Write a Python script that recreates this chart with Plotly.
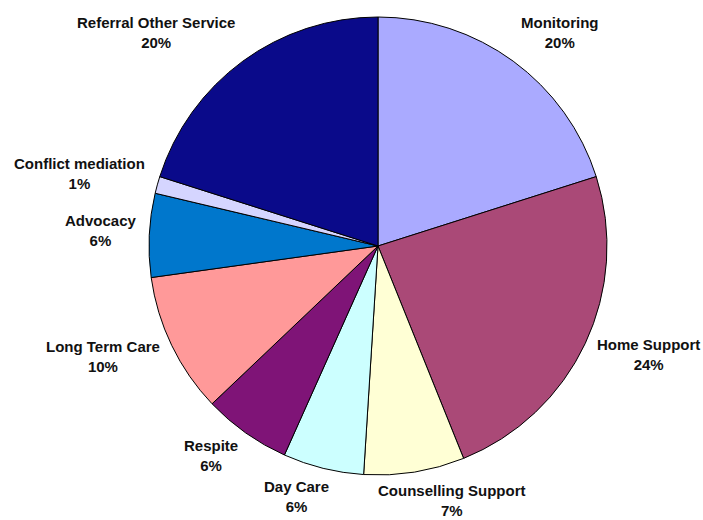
import math
import plotly.graph_objects as go

categories = ["Monitoring", "Home Support", "Counselling Support", "Day Care", "Respite",
              "Long Term Care", "Advocacy", "Conflict mediation", "Referral Other Service"]
values = [20.1, 23.8, 7.1, 5.7, 6.2, 9.9, 5.9, 1.2, 20.1]
colors = ["#AAAAFF", "#AA4977", "#FFFFD5", "#CCFFFF", "#7F1477",
          "#FF9999", "#0077CC", "#D5D5FF", "#0A0A8A"]

W, H = 703, 520
cx, cy, r = 378, 246, 229      # pie centre / radius in figure pixels
FS = 15
GAP = 13
LIFT = 3
FONT = "Liberation Sans, Arial, sans-serif"

# approximate Arial Bold advance widths (per 1000 em)
AW = {" ": 278, "a": 556, "b": 611, "c": 556, "d": 611, "e": 556, "f": 333, "g": 611,
      "h": 611, "i": 278, "l": 278, "m": 889, "n": 611, "o": 611, "p": 611, "r": 389,
      "s": 556, "t": 333, "u": 611, "v": 556, "y": 556, "C": 722, "D": 722, "H": 722,
      "L": 611, "M": 833, "O": 778, "R": 722, "S": 667, "T": 611, "A": 722, "%": 889}


def text_w(s):
    return sum(AW.get(ch, 556) for ch in s) * FS / 1000.0


fig = go.Figure(go.Pie(
    labels=categories,
    values=values,
    sort=False,
    direction="clockwise",
    rotation=0,
    marker=dict(colors=colors, line=dict(color="black", width=1)),
    textinfo="none",
    domain=dict(x=[(cx - r) / W, (cx + r) / W], y=[(H - cy - r) / H, (H - cy + r) / H]),
    hoverinfo="label+percent",
))

total = sum(values)
cum = 0.0
annotations = []
for lab, v in zip(categories, values):
    theta = math.radians(360.0 * (cum + v / 2.0) / total)
    cum += v
    ux, uy = math.sin(theta), -math.cos(theta)
    pct = f"{round(100 * v / total):d}%"
    w = max(text_w(lab), text_w(pct))
    h = 2 * FS * 1.25
    fx = max(-1.0, min(1.0, 3.0 * ux))
    px = cx + (r + GAP) * ux + w / 2 * fx
    py = cy + (r + GAP) * uy + h / 2 * uy - LIFT
    annotations.append(dict(
        x=px / W, y=1 - py / H, xref="paper", yref="paper",
        text=f"<b>{lab}</b><br><b>{pct}</b>", showarrow=False,
        xanchor="center", yanchor="middle", align="center",
        font=dict(family=FONT, size=FS, color="#111111"),
    ))

fig.update_layout(
    width=W, height=H,
    margin=dict(l=0, r=0, t=0, b=0),
    showlegend=False,
    paper_bgcolor="white",
    plot_bgcolor="white",
    annotations=annotations,
)

fig.write_html("out.html", config={"displayModeBar": False},
               post_script="document.body.style.margin='0';")
